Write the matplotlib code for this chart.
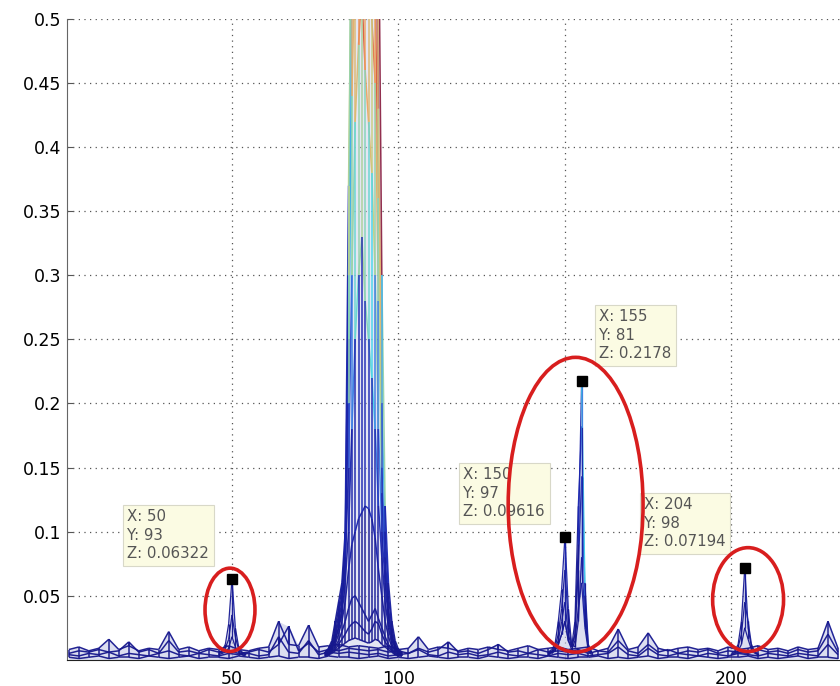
import numpy as np
import matplotlib.pyplot as plt
from matplotlib.collections import LineCollection
from matplotlib.colors import Normalize, LinearSegmentedColormap
from matplotlib.patches import Ellipse

plt.rcParams['font.family'] = ['DejaVu Sans']

# baseline noise traces, sampled every 3 bins (x = 1, 4, ..., 232)
base_x = np.arange(1, 233, 3)
base_1 = [0.008, 0.010, 0.007, 0.009, 0.016, 0.008, 0.011, 0.007, 0.009, 0.008,
          0.022, 0.008, 0.010, 0.007, 0.009, 0.008, 0.011, 0.008, 0.007, 0.009,
          0.010, 0.030, 0.012, 0.011, 0.027, 0.010, 0.011, 0.012, 0.010, 0.011,
          0.010, 0.009, 0.011, 0.008, 0.009, 0.018, 0.008, 0.010, 0.009, 0.007,
          0.009, 0.008, 0.010, 0.008, 0.007, 0.009, 0.011, 0.008, 0.009, 0.010,
          0.008, 0.009, 0.010, 0.007, 0.009, 0.024, 0.008, 0.010, 0.021, 0.009,
          0.007, 0.009, 0.010, 0.008, 0.009, 0.007, 0.010, 0.008, 0.009, 0.011,
          0.008, 0.009, 0.007, 0.010, 0.008, 0.009, 0.030, 0.009]
base_2 = [0.005, 0.007, 0.006, 0.008, 0.006, 0.007, 0.014, 0.006, 0.008, 0.005,
          0.015, 0.006, 0.007, 0.005, 0.008, 0.006, 0.007, 0.005, 0.006, 0.008,
          0.006, 0.012, 0.026, 0.007, 0.013, 0.006, 0.008, 0.007, 0.009, 0.008,
          0.007, 0.008, 0.006, 0.007, 0.005, 0.009, 0.006, 0.008, 0.014, 0.006,
          0.007, 0.005, 0.008, 0.012, 0.006, 0.007, 0.005, 0.008, 0.006, 0.007,
          0.006, 0.008, 0.005, 0.007, 0.006, 0.015, 0.007, 0.005, 0.012, 0.006,
          0.008, 0.005, 0.007, 0.006, 0.008, 0.005, 0.007, 0.006, 0.005, 0.008,
          0.006, 0.007, 0.005, 0.008, 0.006, 0.007, 0.020, 0.006]
base_3 = [0.004, 0.003, 0.005, 0.004, 0.006, 0.003, 0.005, 0.004, 0.003, 0.005,
          0.007, 0.004, 0.003, 0.005, 0.004, 0.003, 0.005, 0.004, 0.005, 0.003,
          0.004, 0.018, 0.006, 0.005, 0.015, 0.004, 0.006, 0.005, 0.006, 0.005,
          0.004, 0.005, 0.003, 0.004, 0.005, 0.008, 0.004, 0.003, 0.006, 0.004,
          0.005, 0.003, 0.004, 0.006, 0.004, 0.003, 0.005, 0.004, 0.003, 0.005,
          0.004, 0.005, 0.003, 0.004, 0.005, 0.010, 0.004, 0.003, 0.009, 0.004,
          0.003, 0.005, 0.004, 0.003, 0.005, 0.004, 0.003, 0.005, 0.004, 0.003,
          0.005, 0.004, 0.003, 0.005, 0.004, 0.003, 0.012, 0.004]
base_4 = [0.002, 0.001, 0.002, 0.003, 0.001, 0.002, 0.002, 0.001, 0.003, 0.002,
          0.001, 0.002, 0.003, 0.001, 0.002, 0.002, 0.001, 0.003, 0.002, 0.001,
          0.002, 0.003, 0.001, 0.002, 0.002, 0.001, 0.003, 0.002, 0.002, 0.001,
          0.002, 0.003, 0.001, 0.002, 0.001, 0.002, 0.003, 0.002, 0.001, 0.002,
          0.002, 0.001, 0.003, 0.002, 0.001, 0.002, 0.002, 0.001, 0.003, 0.002,
          0.001, 0.002, 0.002, 0.003, 0.001, 0.002, 0.001, 0.002, 0.003, 0.001,
          0.002, 0.002, 0.001, 0.003, 0.002, 0.001, 0.002, 0.002, 0.003, 0.001,
          0.002, 0.001, 0.002, 0.003, 0.001, 0.002, 0.002, 0.001]

# main cluster x = 78..101, rows from low to high
cluster_x = np.arange(78, 102)
cluster_z = [
    [0.003, 0.004, 0.005, 0.007, 0.009, 0.011, 0.013, 0.015, 0.016, 0.017, 0.016, 0.015,
     0.014, 0.013, 0.014, 0.016, 0.015, 0.012, 0.010, 0.008, 0.006, 0.004, 0.003, 0.003],
    [0.003, 0.004, 0.006, 0.008, 0.012, 0.016, 0.020, 0.025, 0.028, 0.030, 0.028, 0.025,
     0.022, 0.020, 0.024, 0.030, 0.028, 0.020, 0.014, 0.010, 0.007, 0.005, 0.004, 0.003],
    [0.004, 0.005, 0.007, 0.010, 0.015, 0.022, 0.030, 0.040, 0.048, 0.050, 0.045, 0.040,
     0.035, 0.030, 0.035, 0.040, 0.032, 0.025, 0.018, 0.012, 0.008, 0.006, 0.004, 0.004],
    [0.004, 0.005, 0.008, 0.012, 0.020, 0.030, 0.045, 0.070, 0.090, 0.100, 0.110, 0.115,
     0.120, 0.118, 0.110, 0.095, 0.070, 0.050, 0.030, 0.018, 0.010, 0.007, 0.005, 0.004],
    [0.004, 0.006, 0.009, 0.015, 0.025, 0.035, 0.060, 0.100, 0.180, 0.250, 0.300, 0.330,
     0.280, 0.250, 0.220, 0.180, 0.120, 0.080, 0.045, 0.025, 0.012, 0.008, 0.005, 0.004],
    [0.004, 0.006, 0.010, 0.018, 0.030, 0.045, 0.070, 0.150, 0.300, 0.420, 0.480, 0.520,
     0.460, 0.420, 0.380, 0.300, 0.180, 0.100, 0.060, 0.030, 0.015, 0.009, 0.005, 0.004],
    [0.005, 0.008, 0.012, 0.025, 0.040, 0.055, 0.085, 0.250, 0.440, 0.550, 0.620, 0.580,
     0.600, 0.540, 0.500, 0.450, 0.280, 0.130, 0.070, 0.035, 0.018, 0.010, 0.006, 0.005],
    [0.006, 0.009, 0.015, 0.030, 0.045, 0.060, 0.100, 0.370, 0.600, 0.800, 0.700, 0.650,
     0.700, 0.750, 0.650, 0.520, 0.360, 0.150, 0.080, 0.040, 0.020, 0.010, 0.006, 0.005],
    [0.005, 0.007, 0.012, 0.020, 0.035, 0.050, 0.090, 0.300, 0.700, 1.000, 1.100, 0.950,
     0.850, 0.800, 0.750, 0.650, 0.430, 0.200, 0.100, 0.050, 0.025, 0.012, 0.007, 0.005],
    [0.006, 0.008, 0.010, 0.015, 0.025, 0.040, 0.080, 0.200, 0.520, 0.950, 1.200, 1.300,
     1.250, 1.100, 0.900, 0.700, 0.600, 0.300, 0.120, 0.060, 0.030, 0.015, 0.008, 0.006],
]

peak50_x = np.arange(46, 55)
peak50_z = [
    [0.004, 0.005, 0.006, 0.009, 0.018, 0.010, 0.006, 0.004, 0.004],
    [0.005, 0.006, 0.009, 0.016, 0.035, 0.018, 0.008, 0.005, 0.004],
    [0.006, 0.007, 0.012, 0.028, 0.06322, 0.025, 0.010, 0.006, 0.005],
]

peak150_x = np.arange(145, 159)
peak150_z = [
    [0.004, 0.005, 0.007, 0.012, 0.020, 0.030, 0.015, 0.008, 0.015, 0.040, 0.060, 0.025, 0.007, 0.004],
    [0.004, 0.006, 0.009, 0.015, 0.030, 0.045, 0.020, 0.010, 0.020, 0.070, 0.143, 0.040, 0.008, 0.005],
    [0.006, 0.008, 0.012, 0.030, 0.055, 0.09616, 0.040, 0.012, 0.010, 0.030, 0.080, 0.030, 0.010, 0.006],
    [0.005, 0.007, 0.010, 0.020, 0.040, 0.070, 0.030, 0.010, 0.030, 0.120, 0.182, 0.050, 0.010, 0.005],
    [0.005, 0.006, 0.008, 0.012, 0.020, 0.030, 0.015, 0.010, 0.020, 0.090, 0.2178, 0.060, 0.012, 0.006],
]

peak204_x = np.arange(200, 209)
peak204_z = [
    [0.004, 0.005, 0.007, 0.012, 0.025, 0.016, 0.008, 0.005, 0.004],
    [0.004, 0.006, 0.010, 0.020, 0.045, 0.030, 0.012, 0.006, 0.004],
    [0.005, 0.007, 0.012, 0.030, 0.07194, 0.025, 0.010, 0.006, 0.005],
]

# data tips
tip_x = [50, 155, 150, 204]
tip_y = [93, 81, 97, 98]
tip_z = [0.06322, 0.2178, 0.09616, 0.07194]
tip_text_pos = [(18.6, 0.1175), (160.3, 0.2736), (119.5, 0.1503), (173.8, 0.1269)]

# red circles drawn around the peaks: (x, z, width, height)
rings = [(49.4, 0.039, 15.0, 0.065), (153.2, 0.121, 40.5, 0.230), (205.0, 0.047, 21.3, 0.081)]

y_ticks = [0.05, 0.1, 0.15, 0.2, 0.25, 0.3, 0.35, 0.4, 0.45, 0.5]
y_labels = ['0.05', '0.1', '0.15', '0.2', '0.25', '0.3', '0.35', '0.4', '0.45', '0.5']
x_ticks = [50, 100, 150, 200]

# muted jet-like map, as the screenshot shows it
mesh_cmap = LinearSegmentedColormap.from_list('mesh', [
    (0.00, '#16168a'), (0.20, '#1c28b4'), (0.30, '#3a6ee0'), (0.375, '#45d6ee'),
    (0.50, '#8fd3b0'), (0.65, '#c9cf80'), (0.80, '#eea462'), (0.90, '#dc5a3c'),
    (1.00, '#8c2446')])
norm = Normalize(0, 0.58)


def add_mesh(ax, x, rows, lw=0.9, fill_alpha=0.6):
    """Side view of a mesh: row lines plus vertical column edges, flat colours."""
    z = np.asarray(rows, float)
    segs, vals = [], []
    for row in z:
        for i in range(len(x) - 1):
            segs.append([(x[i], row[i]), (x[i + 1], row[i + 1])])
            vals.append(row[i])
    for j in range(len(x)):
        for i in range(len(z) - 1):
            segs.append([(x[j], z[i, j]), (x[j], z[i + 1, j])])
            vals.append(z[i, j])
    ax.fill_between(x, z.max(axis=0), color='#c5c8e6', alpha=fill_alpha, lw=0, zorder=2)
    lc = LineCollection(segs, cmap=mesh_cmap, norm=norm, linewidths=lw, alpha=0.95, zorder=3)
    lc.set_array(np.array(vals))
    ax.add_collection(lc)


fig = plt.figure(figsize=(8.4, 6.86), dpi=100)
ax = fig.add_axes([66.7 / 840, 26.2 / 686, 1 - 66.7 / 840, 640.8 / 686])

add_mesh(ax, base_x, [base_4, base_3, base_2, base_1], lw=1.1)
add_mesh(ax, cluster_x, cluster_z, lw=1.1, fill_alpha=0.45)
add_mesh(ax, peak50_x, peak50_z)
add_mesh(ax, peak150_x, peak150_z)
add_mesh(ax, peak204_x, peak204_z)

ax.plot(tip_x, tip_z, 's', color='black', ms=7, zorder=5)

for x, y, z, (tx, tz) in zip(tip_x, tip_y, tip_z, tip_text_pos):
    ax.text(tx, tz, f'X: {x}\nY: {y}\nZ: {z:.4g}', ha='left', va='top',
            fontsize=10.8, color='#555555', linespacing=1.3, zorder=6,
            bbox=dict(boxstyle='square,pad=0.3', fc='#fbfbe3', ec='#d8d8c8', lw=0.8))

for cx, cz, w, h in rings:
    ax.add_patch(Ellipse((cx, cz), w, h, fill=False, ec='#d81e1e', lw=2.6, zorder=7))

ax.set_xlim(0.36, 232.6)
ax.set_ylim(0, 0.5)
ax.set_xticks(x_ticks)
ax.set_yticks(y_ticks)
ax.set_yticklabels(y_labels)
ax.tick_params(direction='in', length=4, labelsize=12.5, pad=4, color='#555555')
ax.tick_params(axis='x', pad=7)
ax.grid(True, linestyle=(0, (1, 3.5)), color='#555555', lw=0.9)
ax.set_axisbelow(True)
ax.spines['top'].set_visible(False)
ax.spines['right'].set_visible(False)
ax.spines['left'].set_color('#666666')
ax.spines['bottom'].set_color('#222222')

fig.savefig('out.png', dpi=100)
